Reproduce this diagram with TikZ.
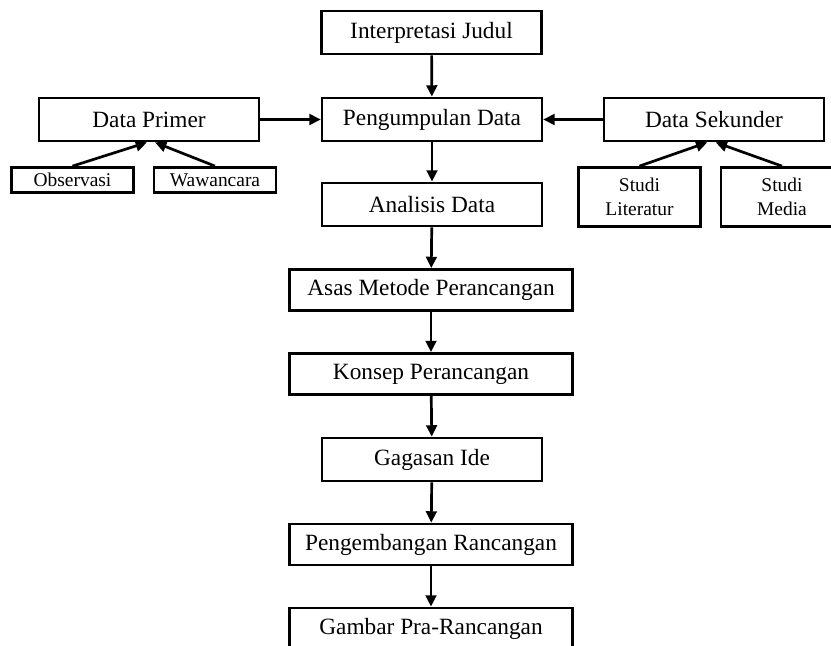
\documentclass[tikz,border=0pt]{standalone}
\usepackage{fontspec}
\setmainfont{Liberation Serif}
\usetikzlibrary{arrows.meta,positioning}

\tikzset{
  box/.style={draw, line width=2.1pt, minimum width=6.6cm, minimum height=1.3cm,
    inner sep=0pt, font=\fontsize{19.9}{23}\selectfont},
  widebox/.style={box, minimum width=8.5cm, minimum height=1.24cm},
  smallbox/.style={draw, line width=2.1pt, minimum width=3.66cm, minimum height=0.76cm,
    inner sep=0pt, font=\fontsize{16.6}{20}\selectfont},
  studibox/.style={smallbox, minimum height=1.78cm, align=center},
  arr/.style={line width=2.3pt, -{Triangle[length=0.34cm,width=0.32cm]}}
}

\begin{document}
\begin{tikzpicture}[x=0.03cm, y=-0.03cm]
  \useasboundingbox (0,0) rectangle (831,646);

  % Main column
  \node[box] (judul) at (431.5,32.5) {Interpretasi Judul};
  \node[box] (kumpul) at (432,119.5) {Pengumpulan Data};
  \node[box] (analisis) at (432,204.5) {Analisis Data};
  \node[widebox] (asas) at (431,290) {Asas Metode Perancangan};
  \node[widebox] (konsep) at (431,374) {Konsep Perancangan};
  \node[box] (gagasan) at (432,459.5) {Gagasan Ide};
  \node[widebox] (kembang) at (431,544.5) {Pengembangan Rancangan};
  \node[widebox] (gambar) at (431,628.5) {Gambar Pra-Rancangan};

  % Data sources
  \node[box] (primer) at (149,119.5) {Data Primer};
  \node[smallbox] (observasi) at (72.5,180) {Observasi};
  \node[smallbox] (wawancara) at (215,180) {Wawancara};
  \node[box] (sekunder) at (714,119.5) {Data Sekunder};
  \node[studibox] (literatur) at (639.5,197) {Studi\\Literatur};
  \node[studibox] (media) at (782,197) {Studi\\Media};

  % Arrows down the column
  \draw[arr] (judul) -- (kumpul);
  \draw[arr] (kumpul) -- (analisis);
  \draw[arr] (analisis) -- (asas);
  \draw[arr] (asas) -- (konsep);
  \draw[arr] (konsep) -- (gagasan);
  \draw[arr] (gagasan) -- (kembang);
  \draw[arr] (kembang) -- (gambar);

  % Arrows from the sources
  \draw[arr] (primer) -- (kumpul);
  \draw[arr] (sekunder) -- (kumpul);
  \draw[arr] (observasi.north) -- ([xshift=-0.06cm]primer.south);
  \draw[arr] (wawancara.north) -- ([xshift=0.18cm]primer.south);
  \draw[arr] (literatur.north) -- ([xshift=-0.2cm]sekunder.south);
  \draw[arr] (media.north) -- ([xshift=0.05cm]sekunder.south);
\end{tikzpicture}
\end{document}
